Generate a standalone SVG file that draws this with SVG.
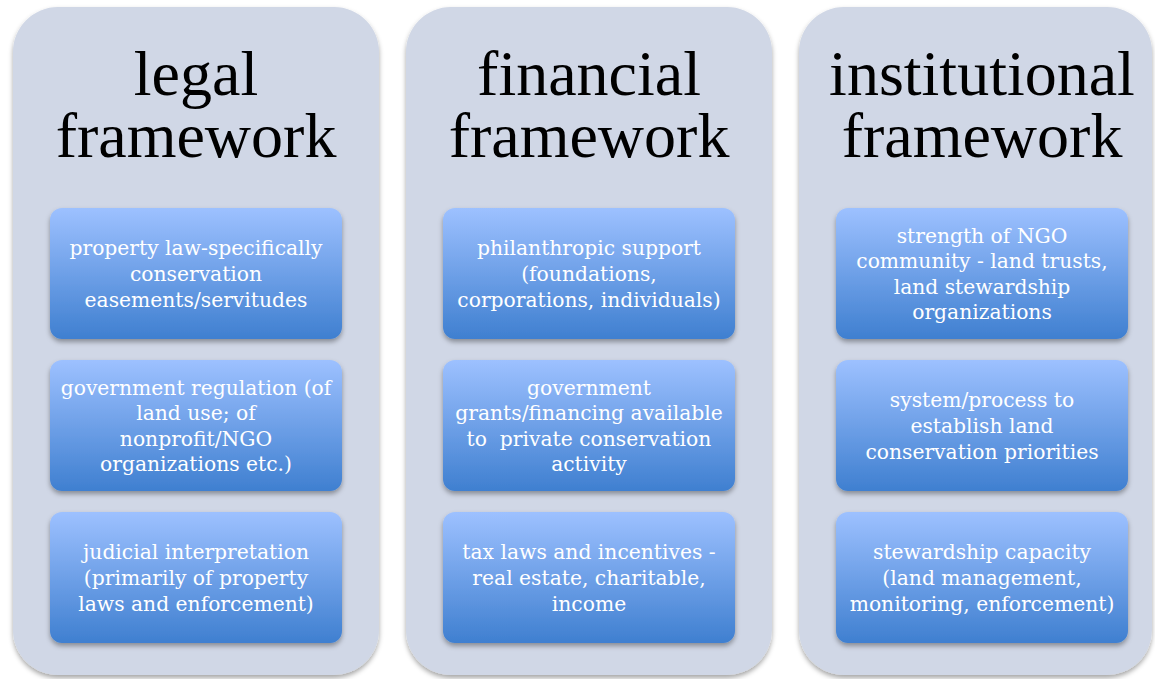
<svg xmlns="http://www.w3.org/2000/svg" width="1155" height="679" viewBox="0 0 1155 679">
<defs>
<linearGradient id="boxg" x1="0" y1="0" x2="0" y2="1">
<stop offset="0" stop-color="#9dc1ff"/>
<stop offset="1" stop-color="#3f7fd0"/>
</linearGradient>
<filter id="sh" x="-10%" y="-10%" width="120%" height="120%">
<feGaussianBlur in="SourceAlpha" stdDeviation="2.5"/>
<feOffset dx="0" dy="3" result="b"/>
<feFlood flood-color="#000" flood-opacity="0.35"/>
<feComposite in2="b" operator="in"/>
<feMerge><feMergeNode/><feMergeNode in="SourceGraphic"/></feMerge>
</filter>
</defs>
<style>
.col{fill:#d0d7e6;filter:url(#sh)}
.box{fill:url(#boxg);filter:url(#sh)}
.title{font-family:"Liberation Serif",serif;font-size:64px;fill:#000;text-anchor:middle}
.bt{font-family:"DejaVu Serif",serif;font-size:20.3px;fill:#fff;text-anchor:middle}
</style>
<rect width="1155" height="679" fill="#fff"/>
<g id="col-legal">
<rect class="col" x="13" y="7" width="366" height="668" rx="45"/>
<text class="title" x="196" y="95">legal<tspan x="196" y="157">framework</tspan></text>
</g>
<g id="col-financial">
<rect class="col" x="406" y="7" width="366" height="668" rx="45"/>
<text class="title" x="589" y="95">financial<tspan x="589" y="157">framework</tspan></text>
</g>
<g id="col-institutional">
<rect class="col" x="799" y="7" width="353" height="668" rx="45"/>
<text class="title" x="982" y="95">institutional<tspan x="982" y="157">framework</tspan></text>
</g>
<g id="legal-1">
<rect class="box" x="50" y="208" width="292" height="131" rx="12"/>
<text class="bt" x="196" y="255">property law-specifically</text>
<text class="bt" x="196" y="281">conservation</text>
<text class="bt" x="196" y="307">easements/servitudes</text>
</g>
<g id="legal-2">
<rect class="box" x="50" y="360" width="292" height="131" rx="12"/>
<text class="bt" x="196" y="395">government regulation (of</text>
<text class="bt" x="196" y="420">land use; of</text>
<text class="bt" x="196" y="446">nonprofit/NGO</text>
<text class="bt" x="196" y="471">organizations etc.)</text>
</g>
<g id="legal-3">
<rect class="box" x="50" y="512" width="292" height="131" rx="12"/>
<text class="bt" x="196" y="559">judicial interpretation</text>
<text class="bt" x="196" y="585">(primarily of property</text>
<text class="bt" x="196" y="611">laws and enforcement)</text>
</g>
<g id="fin-1">
<rect class="box" x="443" y="208" width="292" height="131" rx="12"/>
<text class="bt" x="589" y="255">philanthropic support</text>
<text class="bt" x="589" y="281">(foundations,</text>
<text class="bt" x="589" y="307">corporations, individuals)</text>
</g>
<g id="fin-2">
<rect class="box" x="443" y="360" width="292" height="131" rx="12"/>
<text class="bt" x="589" y="395">government</text>
<text class="bt" x="589" y="420">grants/financing available</text>
<text class="bt" x="589" y="446" xml:space="preserve">to  private conservation</text>
<text class="bt" x="589" y="471">activity</text>
</g>
<g id="fin-3">
<rect class="box" x="443" y="512" width="292" height="131" rx="12"/>
<text class="bt" x="589" y="559">tax laws and incentives -</text>
<text class="bt" x="589" y="585">real estate, charitable,</text>
<text class="bt" x="589" y="611">income</text>
</g>
<g id="inst-1">
<rect class="box" x="836" y="208" width="292" height="131" rx="12"/>
<text class="bt" x="982" y="243">strength of NGO</text>
<text class="bt" x="982" y="268">community - land trusts,</text>
<text class="bt" x="982" y="294">land stewardship</text>
<text class="bt" x="982" y="319">organizations</text>
</g>
<g id="inst-2">
<rect class="box" x="836" y="360" width="292" height="131" rx="12"/>
<text class="bt" x="982" y="407">system/process to</text>
<text class="bt" x="982" y="433">establish land</text>
<text class="bt" x="982" y="459">conservation priorities</text>
</g>
<g id="inst-3">
<rect class="box" x="836" y="512" width="292" height="131" rx="12"/>
<text class="bt" x="982" y="559">stewardship capacity</text>
<text class="bt" x="982" y="585">(land management,</text>
<text class="bt" x="982" y="611">monitoring, enforcement)</text>
</g>
<g id="connectors"/>
</svg>
